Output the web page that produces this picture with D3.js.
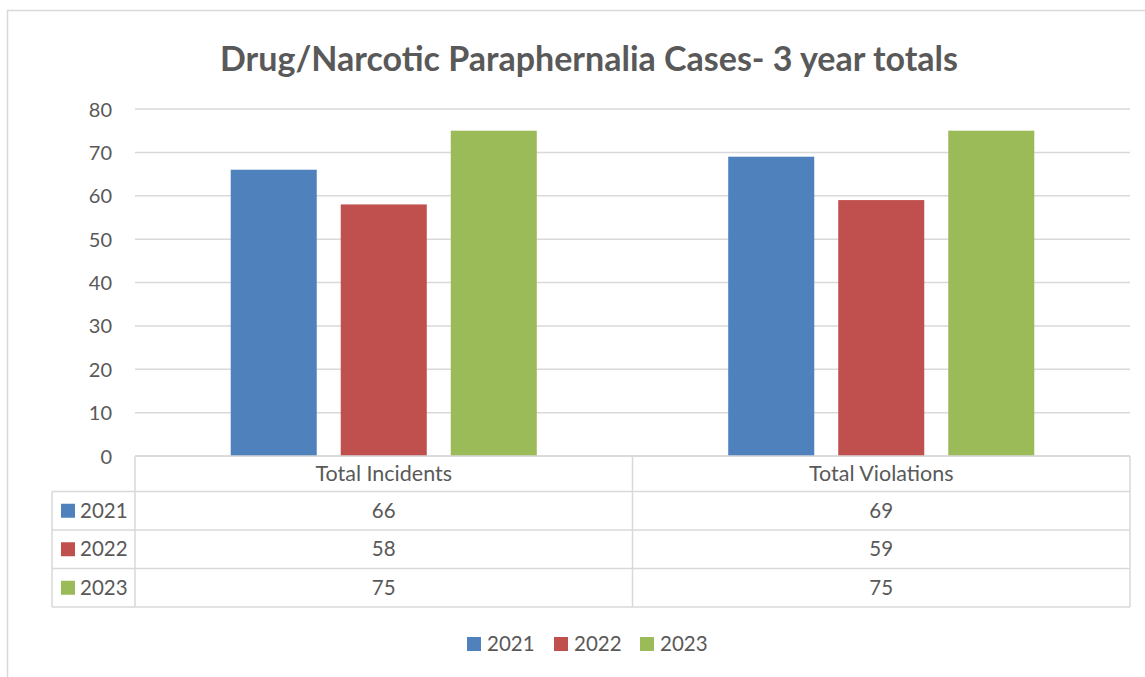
<!DOCTYPE html>
<html><head><meta charset="utf-8">
<script src="https://cdn.jsdelivr.net/npm/d3@7"></script>
<style>body{margin:0;background:#fff;}svg{display:block;font-family:Lato, "Open Sans", sans-serif;}</style>
</head><body><svg id="c" width="1145" height="677"></svg>
<script>
const title = "Drug/Narcotic Paraphernalia Cases- 3 year totals";
const categories = ["Total Incidents", "Total Violations"];
const seriesNames = ["2021", "2022", "2023"];
const values2021 = [66, 69];
const values2022 = [58, 59];
const values2023 = [75, 75];
const colors = ["#4f81bd", "#c0504d", "#9bbb59"];
const yTicks = [0, 10, 20, 30, 40, 50, 60, 70, 80];

const series = [values2021, values2022, values2023];
const svg = d3.select("#c");
const txt = "#595959", grid = "#d9d9d9";

// frame
svg.append("path").attr("d", "M7.5,677 V10.5 H1145").attr("fill", "none").attr("stroke", grid).attr("stroke-width", 1.5);

svg.append("text").attr("x", 589).attr("y", 71).attr("text-anchor", "middle")
  .attr("font-size", 34).attr("font-weight", "bold").attr("fill", txt).text(title);

const x0 = d3.scaleBand().domain(categories).range([135, 1130]);
const x1 = d3.scaleBand().domain(seriesNames).range([0, x0.bandwidth()]).paddingInner(0.218).paddingOuter(0.87);
const y = d3.scaleLinear().domain([0, 80]).range([456, 109]);

// gridlines
svg.append("g").selectAll("line").data(yTicks).join("line")
  .attr("x1", 135).attr("x2", 1130).attr("y1", d => y(d)).attr("y2", d => y(d))
  .attr("stroke", grid).attr("stroke-width", 1.5);

// y axis labels
const yAxis = d3.axisLeft(y).tickValues(yTicks).tickSize(0).tickPadding(0);
const gy = svg.append("g").attr("transform", "translate(112,0)").call(yAxis);
gy.select(".domain").remove();
gy.selectAll("text").attr("font-size", 20).attr("fill", txt).attr("font-family", "Lato, sans-serif").attr("dy", "0.35em");

// bars
categories.forEach((c, ci) => {
  svg.append("g").selectAll("rect").data(seriesNames).join("rect")
    .attr("x", s => x0(c) + x1(s)).attr("width", x1.bandwidth())
    .attr("y", (s, si) => y(series[si][ci])).attr("height", (s, si) => y(0) - y(series[si][ci]))
    .attr("fill", (s, si) => colors[si]);
});

// data table
const rowY = [456, 491.5, 530, 568.5, 607];
const tbl = svg.append("g").attr("stroke", grid).attr("stroke-width", 1.5).attr("fill", "none");
tbl.append("line").attr("x1", 135).attr("x2", 1130).attr("y1", rowY[0]).attr("y2", rowY[0]);
for (let i = 1; i < rowY.length; i++) tbl.append("line").attr("x1", 52).attr("x2", 1130).attr("y1", rowY[i]).attr("y2", rowY[i]);
tbl.append("line").attr("x1", 52).attr("x2", 52).attr("y1", rowY[1]).attr("y2", rowY[4]);
[135, x0(categories[1]), 1130].forEach(xv => tbl.append("line").attr("x1", xv).attr("x2", xv).attr("y1", rowY[0]).attr("y2", rowY[4]));

categories.forEach(c => {
  svg.append("text").attr("x", x0(c) + x0.bandwidth() / 2).attr("y", (rowY[0] + rowY[1]) / 2).attr("dy", "0.35em")
    .attr("text-anchor", "middle").attr("font-size", 21.5).attr("fill", txt).text(c);
});
seriesNames.forEach((s, si) => {
  const cy = (rowY[si + 1] + rowY[si + 2]) / 2;
  svg.append("rect").attr("x", 61).attr("y", cy - 7).attr("width", 14).attr("height", 14).attr("fill", colors[si]);
  svg.append("text").attr("x", 80).attr("y", cy).attr("dy", "0.35em").attr("font-size", 20.5).attr("fill", txt).text(s);
  categories.forEach((c, ci) => {
    svg.append("text").attr("x", x0(c) + x0.bandwidth() / 2).attr("y", cy).attr("dy", "0.35em")
      .attr("text-anchor", "middle").attr("font-size", 20.5).attr("fill", txt).text(series[si][ci]);
  });
});

// legend
const legX = [467, 554, 640];
seriesNames.forEach((s, si) => {
  svg.append("rect").attr("x", legX[si]).attr("y", 637).attr("width", 14).attr("height", 14).attr("fill", colors[si]);
  svg.append("text").attr("x", legX[si] + 20).attr("y", 644).attr("dy", "0.35em").attr("font-size", 20.5).attr("fill", txt).text(s);
});
</script></body></html>
